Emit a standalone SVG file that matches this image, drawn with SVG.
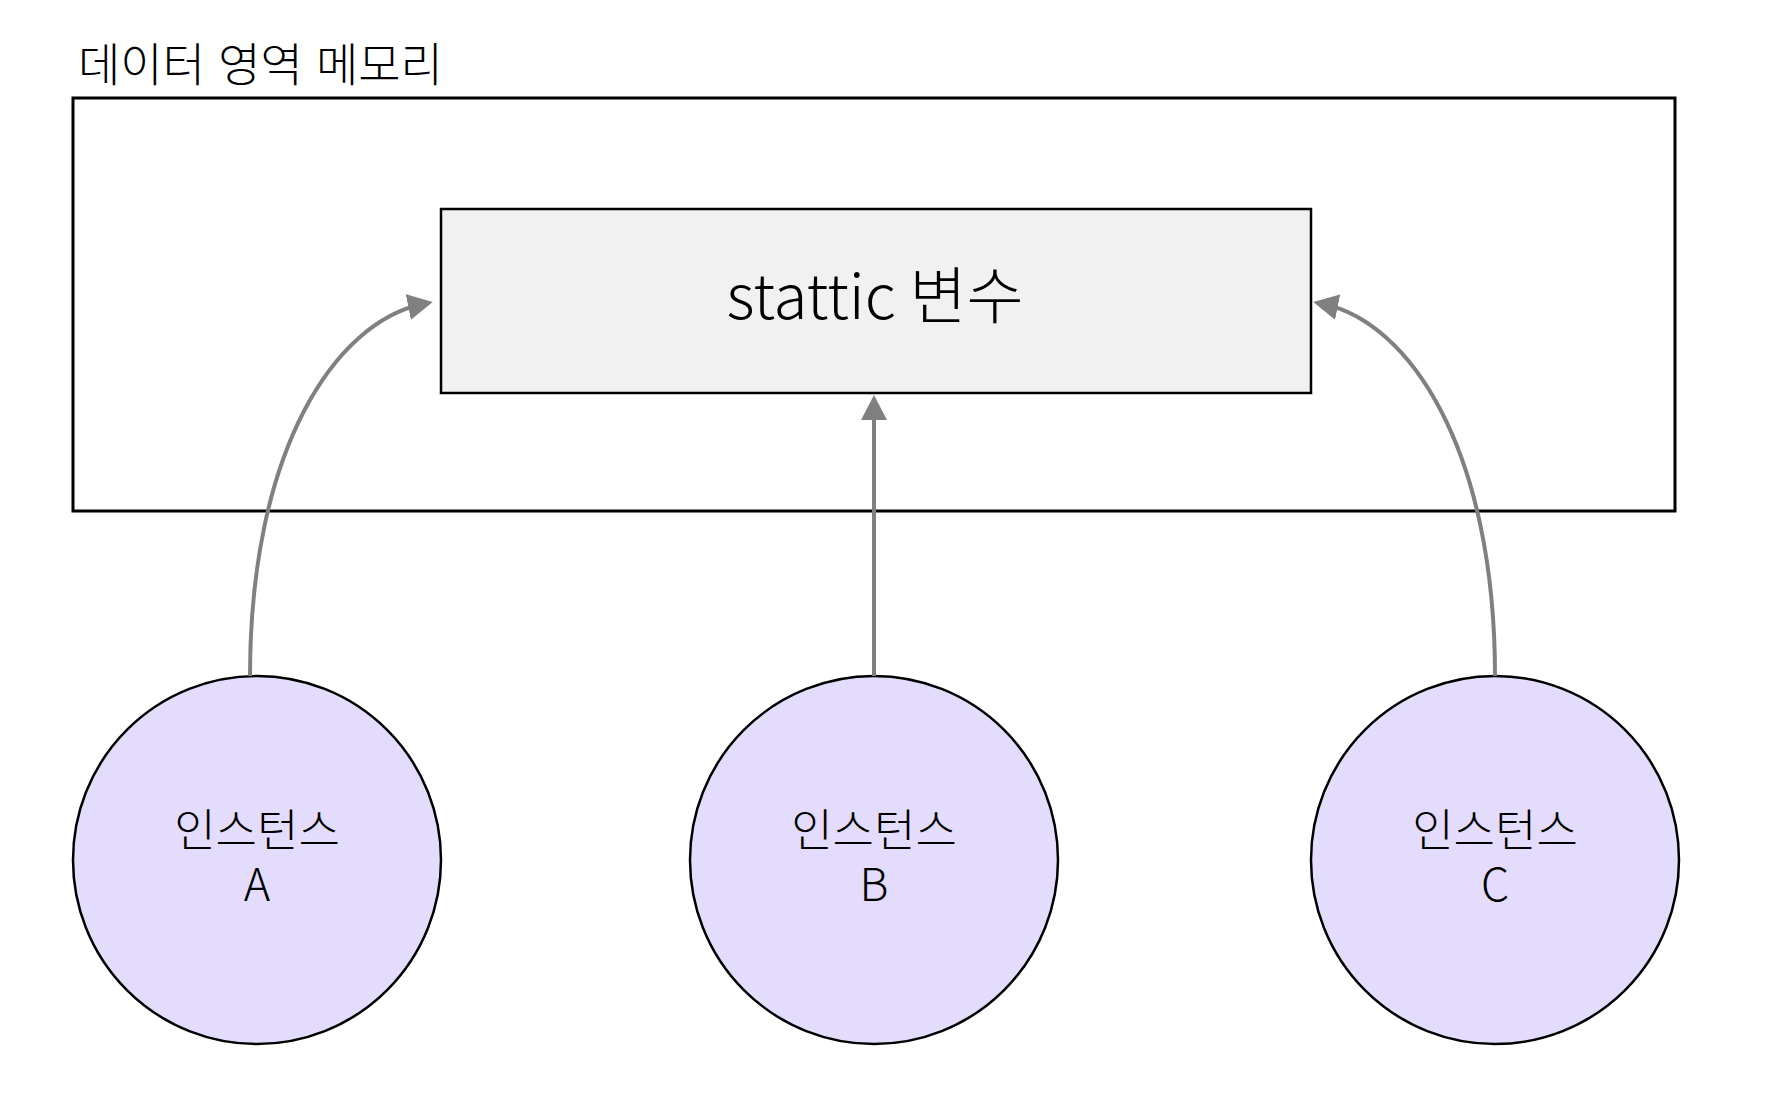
<svg xmlns="http://www.w3.org/2000/svg" width="1782" height="1098" viewBox="0 0 1782 1098">
<style>
  text { font-family: "Noto Sans CJK KR", "Noto Sans", sans-serif; fill: #000; font-weight: 300; }
  .title { font-size: 46px; word-spacing: 3px; }
  .big { font-size: 62px; text-anchor: middle; }
  .lbl { font-size: 45px; text-anchor: middle; }
  .inst { fill: #e4dcfd; stroke: #000; stroke-width: 2.5; }
  .conn { fill: none; stroke: #808080; stroke-width: 4; marker-end: url(#arrow); }
</style>
<defs>
  <marker id="arrow" markerUnits="userSpaceOnUse" viewBox="0 0 25 26" markerWidth="25" markerHeight="26" refX="15" refY="13" orient="auto">
    <path d="M0,0 L25,13 L0,26 Z" fill="#808080"/>
  </marker>
</defs>
<rect width="1782" height="1098" fill="#ffffff"/>
<g id="data-area">
  <text class="title" x="78" y="81">데이터 영역 메모리</text>
  <rect x="73" y="98" width="1602" height="413" fill="#ffffff" stroke="#000" stroke-width="3"/>
</g>
<g id="static-var">
  <rect x="441" y="209" width="870" height="184" fill="#f1f1f1" stroke="#000" stroke-width="2.5"/>
  <text class="big" x="875" y="319">stattic 변수</text>
</g>
<g id="instance-a">
  <circle class="inst" cx="257" cy="860" r="184"/>
  <text class="lbl"><tspan x="257" y="847">인스턴스</tspan><tspan x="257" y="901">A</tspan></text>
</g>
<g id="instance-b">
  <circle class="inst" cx="874" cy="860" r="184"/>
  <text class="lbl"><tspan x="874" y="847">인스턴스</tspan><tspan x="874" y="901">B</tspan></text>
</g>
<g id="instance-c">
  <circle class="inst" cx="1495" cy="860" r="184"/>
  <text class="lbl"><tspan x="1495" y="847">인스턴스</tspan><tspan x="1495" y="901">C</tspan></text>
</g>
<g id="connectors">
  <path class="conn" d="M250,676 C250,450 335,322 423,304"/>
  <path class="conn" d="M874,676 L874,405"/>
  <path class="conn" d="M1495,676 C1495,450 1410,322 1323,304"/>
</g>
</svg>
